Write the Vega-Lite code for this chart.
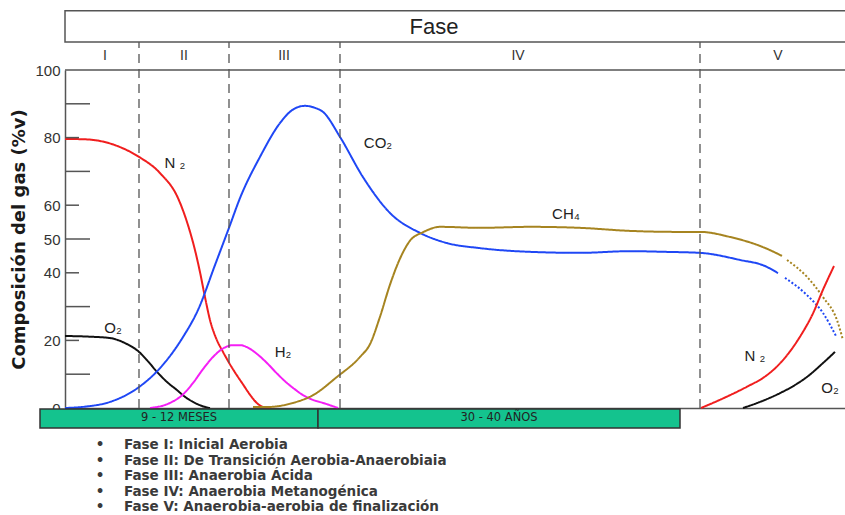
{
  "$schema": "https://vega.github.io/schema/vega-lite/v6.json",
  "width": 780,
  "height": 338,
  "autosize": {"type": "none"},
  "padding": {"left": 65, "top": 70, "right": 0, "bottom": 107},
  "background": "white",
  "config": {"view": {"stroke": null}, "font": "Liberation Sans"},
  "datasets": {
    "curvas": [
      {"seg": "N2a", "gas": "N2", "estilo": "solido", "x": 0, "y": 79.6},
      {"seg": "N2a", "gas": "N2", "estilo": "solido", "x": 20, "y": 79.5},
      {"seg": "N2a", "gas": "N2", "estilo": "solido", "x": 35, "y": 79},
      {"seg": "N2a", "gas": "N2", "estilo": "solido", "x": 55, "y": 77.2},
      {"seg": "N2a", "gas": "N2", "estilo": "solido", "x": 74, "y": 74.3},
      {"seg": "N2a", "gas": "N2", "estilo": "solido", "x": 95, "y": 69.5},
      {"seg": "N2a", "gas": "N2", "estilo": "solido", "x": 113, "y": 62.1},
      {"seg": "N2a", "gas": "N2", "estilo": "solido", "x": 123, "y": 54.1},
      {"seg": "N2a", "gas": "N2", "estilo": "solido", "x": 130, "y": 46.7},
      {"seg": "N2a", "gas": "N2", "estilo": "solido", "x": 135, "y": 40.2},
      {"seg": "N2a", "gas": "N2", "estilo": "solido", "x": 140, "y": 32.8},
      {"seg": "N2a", "gas": "N2", "estilo": "solido", "x": 145, "y": 26},
      {"seg": "N2a", "gas": "N2", "estilo": "solido", "x": 151, "y": 20.7},
      {"seg": "N2a", "gas": "N2", "estilo": "solido", "x": 158, "y": 16.6},
      {"seg": "N2a", "gas": "N2", "estilo": "solido", "x": 175, "y": 8.3},
      {"seg": "N2a", "gas": "N2", "estilo": "solido", "x": 198, "y": 0.3},
      {"seg": "N2a", "gas": "N2", "estilo": "solido", "x": 205, "y": 0},
      {"seg": "O2a", "gas": "O2", "estilo": "solido", "x": 0, "y": 21.3},
      {"seg": "O2a", "gas": "O2", "estilo": "solido", "x": 25, "y": 21.1},
      {"seg": "O2a", "gas": "O2", "estilo": "solido", "x": 45, "y": 20.7},
      {"seg": "O2a", "gas": "O2", "estilo": "solido", "x": 60, "y": 19.2},
      {"seg": "O2a", "gas": "O2", "estilo": "solido", "x": 74, "y": 16.6},
      {"seg": "O2a", "gas": "O2", "estilo": "solido", "x": 83, "y": 13.8},
      {"seg": "O2a", "gas": "O2", "estilo": "solido", "x": 92, "y": 10.7},
      {"seg": "O2a", "gas": "O2", "estilo": "solido", "x": 102, "y": 7.7},
      {"seg": "O2a", "gas": "O2", "estilo": "solido", "x": 112, "y": 5.3},
      {"seg": "O2a", "gas": "O2", "estilo": "solido", "x": 120, "y": 3.3},
      {"seg": "O2a", "gas": "O2", "estilo": "solido", "x": 128, "y": 1.8},
      {"seg": "O2a", "gas": "O2", "estilo": "solido", "x": 137, "y": 0.6},
      {"seg": "O2a", "gas": "O2", "estilo": "solido", "x": 145, "y": 0},
      {"seg": "CO2a", "gas": "CO2", "estilo": "solido", "x": 0, "y": 0},
      {"seg": "CO2a", "gas": "CO2", "estilo": "solido", "x": 20, "y": 0.4},
      {"seg": "CO2a", "gas": "CO2", "estilo": "solido", "x": 45, "y": 1.8},
      {"seg": "CO2a", "gas": "CO2", "estilo": "solido", "x": 74, "y": 6.2},
      {"seg": "CO2a", "gas": "CO2", "estilo": "solido", "x": 95, "y": 11.8},
      {"seg": "CO2a", "gas": "CO2", "estilo": "solido", "x": 118, "y": 21},
      {"seg": "CO2a", "gas": "CO2", "estilo": "solido", "x": 133, "y": 29},
      {"seg": "CO2a", "gas": "CO2", "estilo": "solido", "x": 150, "y": 42.3},
      {"seg": "CO2a", "gas": "CO2", "estilo": "solido", "x": 164, "y": 53.3},
      {"seg": "CO2a", "gas": "CO2", "estilo": "solido", "x": 175, "y": 62.1},
      {"seg": "CO2a", "gas": "CO2", "estilo": "solido", "x": 195, "y": 74.3},
      {"seg": "CO2a", "gas": "CO2", "estilo": "solido", "x": 215, "y": 84.3},
      {"seg": "CO2a", "gas": "CO2", "estilo": "solido", "x": 228, "y": 88.3},
      {"seg": "CO2a", "gas": "CO2", "estilo": "solido", "x": 240, "y": 89.4},
      {"seg": "CO2a", "gas": "CO2", "estilo": "solido", "x": 250, "y": 88.8},
      {"seg": "CO2a", "gas": "CO2", "estilo": "solido", "x": 258, "y": 87.6},
      {"seg": "CO2a", "gas": "CO2", "estilo": "solido", "x": 275, "y": 80.2},
      {"seg": "CO2a", "gas": "CO2", "estilo": "solido", "x": 298, "y": 68.3},
      {"seg": "CO2a", "gas": "CO2", "estilo": "solido", "x": 325, "y": 57.7},
      {"seg": "CO2a", "gas": "CO2", "estilo": "solido", "x": 355, "y": 51.8},
      {"seg": "CO2a", "gas": "CO2", "estilo": "solido", "x": 382, "y": 48.8},
      {"seg": "CO2a", "gas": "CO2", "estilo": "solido", "x": 415, "y": 47.3},
      {"seg": "CO2a", "gas": "CO2", "estilo": "solido", "x": 465, "y": 46.2},
      {"seg": "CO2a", "gas": "CO2", "estilo": "solido", "x": 515, "y": 45.9},
      {"seg": "CO2a", "gas": "CO2", "estilo": "solido", "x": 565, "y": 46.4},
      {"seg": "CO2a", "gas": "CO2", "estilo": "solido", "x": 600, "y": 46.2},
      {"seg": "CO2a", "gas": "CO2", "estilo": "solido", "x": 635, "y": 45.9},
      {"seg": "CO2a", "gas": "CO2", "estilo": "solido", "x": 675, "y": 43.8},
      {"seg": "CO2a", "gas": "CO2", "estilo": "solido", "x": 700, "y": 42},
      {"seg": "CO2a", "gas": "CO2", "estilo": "solido", "x": 713, "y": 39.9},
      {"seg": "CO2b", "gas": "CO2", "estilo": "punteado", "x": 720, "y": 38.5},
      {"seg": "CO2b", "gas": "CO2", "estilo": "punteado", "x": 742, "y": 33.4},
      {"seg": "CO2b", "gas": "CO2", "estilo": "punteado", "x": 758, "y": 28.1},
      {"seg": "CO2b", "gas": "CO2", "estilo": "punteado", "x": 771, "y": 21.3},
      {"seg": "H2a", "gas": "H2", "estilo": "solido", "x": 85, "y": 0},
      {"seg": "H2a", "gas": "H2", "estilo": "solido", "x": 105, "y": 1.5},
      {"seg": "H2a", "gas": "H2", "estilo": "solido", "x": 118, "y": 4},
      {"seg": "H2a", "gas": "H2", "estilo": "solido", "x": 128, "y": 7.4},
      {"seg": "H2a", "gas": "H2", "estilo": "solido", "x": 138, "y": 11.5},
      {"seg": "H2a", "gas": "H2", "estilo": "solido", "x": 148, "y": 15.1},
      {"seg": "H2a", "gas": "H2", "estilo": "solido", "x": 158, "y": 17.6},
      {"seg": "H2a", "gas": "H2", "estilo": "solido", "x": 168, "y": 18.6},
      {"seg": "H2a", "gas": "H2", "estilo": "solido", "x": 175, "y": 18.6},
      {"seg": "H2a", "gas": "H2", "estilo": "solido", "x": 182, "y": 18},
      {"seg": "H2a", "gas": "H2", "estilo": "solido", "x": 192, "y": 16},
      {"seg": "H2a", "gas": "H2", "estilo": "solido", "x": 202, "y": 13.3},
      {"seg": "H2a", "gas": "H2", "estilo": "solido", "x": 212, "y": 10.2},
      {"seg": "H2a", "gas": "H2", "estilo": "solido", "x": 222, "y": 7.4},
      {"seg": "H2a", "gas": "H2", "estilo": "solido", "x": 230, "y": 5.5},
      {"seg": "H2a", "gas": "H2", "estilo": "solido", "x": 238, "y": 3.8},
      {"seg": "H2a", "gas": "H2", "estilo": "solido", "x": 248, "y": 2.4},
      {"seg": "H2a", "gas": "H2", "estilo": "solido", "x": 258, "y": 1.5},
      {"seg": "H2a", "gas": "H2", "estilo": "solido", "x": 273, "y": 0},
      {"seg": "CH4a", "gas": "CH4", "estilo": "solido", "x": 188, "y": 0.3},
      {"seg": "CH4a", "gas": "CH4", "estilo": "solido", "x": 202, "y": 0.3},
      {"seg": "CH4a", "gas": "CH4", "estilo": "solido", "x": 228, "y": 1.5},
      {"seg": "CH4a", "gas": "CH4", "estilo": "solido", "x": 248, "y": 3.8},
      {"seg": "CH4a", "gas": "CH4", "estilo": "solido", "x": 272, "y": 9.2},
      {"seg": "CH4a", "gas": "CH4", "estilo": "solido", "x": 295, "y": 15.1},
      {"seg": "CH4a", "gas": "CH4", "estilo": "solido", "x": 305, "y": 18.9},
      {"seg": "CH4a", "gas": "CH4", "estilo": "solido", "x": 315, "y": 27},
      {"seg": "CH4a", "gas": "CH4", "estilo": "solido", "x": 325, "y": 36.5},
      {"seg": "CH4a", "gas": "CH4", "estilo": "solido", "x": 335, "y": 44.2},
      {"seg": "CH4a", "gas": "CH4", "estilo": "solido", "x": 345, "y": 49.5},
      {"seg": "CH4a", "gas": "CH4", "estilo": "solido", "x": 358, "y": 52},
      {"seg": "CH4a", "gas": "CH4", "estilo": "solido", "x": 375, "y": 53.6},
      {"seg": "CH4a", "gas": "CH4", "estilo": "solido", "x": 415, "y": 53.3},
      {"seg": "CH4a", "gas": "CH4", "estilo": "solido", "x": 465, "y": 53.6},
      {"seg": "CH4a", "gas": "CH4", "estilo": "solido", "x": 515, "y": 53.3},
      {"seg": "CH4a", "gas": "CH4", "estilo": "solido", "x": 565, "y": 52.4},
      {"seg": "CH4a", "gas": "CH4", "estilo": "solido", "x": 615, "y": 52.1},
      {"seg": "CH4a", "gas": "CH4", "estilo": "solido", "x": 635, "y": 52.1},
      {"seg": "CH4a", "gas": "CH4", "estilo": "solido", "x": 665, "y": 50.6},
      {"seg": "CH4a", "gas": "CH4", "estilo": "solido", "x": 698, "y": 47.6},
      {"seg": "CH4a", "gas": "CH4", "estilo": "solido", "x": 717, "y": 45},
      {"seg": "CH4b", "gas": "CH4", "estilo": "punteado", "x": 722, "y": 43.8},
      {"seg": "CH4b", "gas": "CH4", "estilo": "punteado", "x": 742, "y": 38.8},
      {"seg": "CH4b", "gas": "CH4", "estilo": "punteado", "x": 758, "y": 32.8},
      {"seg": "CH4b", "gas": "CH4", "estilo": "punteado", "x": 772, "y": 26},
      {"seg": "CH4b", "gas": "CH4", "estilo": "punteado", "x": 778, "y": 20.1},
      {"seg": "N2b", "gas": "N2", "estilo": "solido", "x": 636, "y": 0},
      {"seg": "N2b", "gas": "N2", "estilo": "solido", "x": 660, "y": 3.1},
      {"seg": "N2b", "gas": "N2", "estilo": "solido", "x": 682, "y": 6.3},
      {"seg": "N2b", "gas": "N2", "estilo": "solido", "x": 700, "y": 9.3},
      {"seg": "N2b", "gas": "N2", "estilo": "solido", "x": 715, "y": 13.2},
      {"seg": "N2b", "gas": "N2", "estilo": "solido", "x": 735, "y": 21.1},
      {"seg": "N2b", "gas": "N2", "estilo": "solido", "x": 748, "y": 28},
      {"seg": "N2b", "gas": "N2", "estilo": "solido", "x": 758, "y": 35},
      {"seg": "N2b", "gas": "N2", "estilo": "solido", "x": 769, "y": 42},
      {"seg": "O2b", "gas": "O2", "estilo": "solido", "x": 678, "y": 0},
      {"seg": "O2b", "gas": "O2", "estilo": "solido", "x": 695, "y": 1.8},
      {"seg": "O2b", "gas": "O2", "estilo": "solido", "x": 715, "y": 4.4},
      {"seg": "O2b", "gas": "O2", "estilo": "solido", "x": 730, "y": 6.8},
      {"seg": "O2b", "gas": "O2", "estilo": "solido", "x": 742, "y": 9.2},
      {"seg": "O2b", "gas": "O2", "estilo": "solido", "x": 758, "y": 13.3},
      {"seg": "O2b", "gas": "O2", "estilo": "solido", "x": 770, "y": 16.6}
    ],
    "etiquetas": [
      {"texto": "N ₂", "x": 110, "y": 72.5},
      {"texto": "O₂", "x": 48, "y": 23.7},
      {"texto": "CO₂", "x": 313, "y": 78.4},
      {"texto": "CH₄", "x": 501, "y": 57.4},
      {"texto": "H₂", "x": 218, "y": 16.6},
      {"texto": "N ₂", "x": 690, "y": 15.4},
      {"texto": "O₂", "x": 765, "y": 5.9}
    ],
    "fases": [
      {"fase": "I", "ini": 0, "fin": 74, "centro": 40},
      {"fase": "II", "ini": 74, "fin": 164, "centro": 119},
      {"fase": "III", "ini": 164, "fin": 275, "centro": 219},
      {"fase": "IV", "ini": 275, "fin": 635, "centro": 453},
      {"fase": "V", "ini": 635, "fin": 790, "centro": 713}
    ],
    "duracion": [
      {"texto": "9 - 12  MESES", "ini": -25, "fin": 253, "centro": 114},
      {"texto": "30 - 40  AÑOS", "ini": 253, "fin": 615, "centro": 434}
    ],
    "marcas": [
      {"valor": 10, "largo": 25},
      {"valor": 20, "largo": 14},
      {"valor": 30, "largo": 25},
      {"valor": 40, "largo": 14},
      {"valor": 50, "largo": 25},
      {"valor": 60, "largo": 14},
      {"valor": 70, "largo": 25},
      {"valor": 80, "largo": 14},
      {"valor": 90, "largo": 25}
    ]
  },
  "layer": [
    {
      "data": {"name": "curvas"},
      "mark": {"type": "line", "interpolate": "monotone", "strokeWidth": 2},
      "encoding": {
        "x": {"field": "x", "type": "quantitative", "scale": {"domain": [0, 780], "nice": false, "zero": false},
              "axis": {"labels": false, "ticks": false, "grid": false, "title": null, "domainColor": "#555555", "domainWidth": 1.5}},
        "y": {"field": "y", "type": "quantitative", "scale": {"domain": [0, 100], "nice": false, "zero": false},
              "axis": {"title": "Composición del gas (%v)", "titleFont": "DejaVu Sans", "titleFontWeight": "bold", "titleFontSize": 18, "titleColor": "#1a1a1a", "titlePadding": 6,
                       "values": [0, 20, 40, 50, 60, 80, 100],
                       "labelOverlap": false,
                       "labelFontSize": 15, "labelColor": "#333333",
                       "ticks": false,
                       "labelPadding": 5,
                       "grid": false, "domainColor": "#555555", "domainWidth": 1.5}},
        "color": {"field": "gas", "type": "nominal", "legend": null,
                  "scale": {"domain": ["N2", "O2", "CO2", "H2", "CH4"], "range": ["#f01e1e", "#111111", "#1f47f5", "#f51ef5", "#a68420"]}},
        "strokeDash": {"field": "estilo", "type": "nominal", "legend": null,
                       "scale": {"domain": ["solido", "punteado"], "range": [[1, 0], [2, 2]]}},
        "detail": {"field": "seg"}
      }
    },
    {
      "data": {"name": "marcas"},
      "mark": {"type": "rule", "color": "#555555", "strokeWidth": 1.5},
      "encoding": {
        "x": {"field": "largo", "type": "quantitative", "scale": {"domain": [0, 780], "nice": false, "zero": false}},
        "x2": {"datum": 0},
        "y": {"field": "valor", "type": "quantitative", "scale": {"domain": [0, 100], "nice": false, "zero": false}}
      }
    },
    {
      "data": {"values": [{"titulo": "Fase"}]},
      "mark": {"type": "rect", "fill": null, "stroke": "#555555", "strokeWidth": 1.5},
      "encoding": {
        "x": {"datum": 0, "type": "quantitative", "scale": {"domain": [0, 780], "nice": false, "zero": false}},
        "x2": {"datum": 800},
        "y": {"datum": 108.3, "type": "quantitative", "scale": {"domain": [0, 100], "nice": false, "zero": false}},
        "y2": {"datum": 117.5}
      }
    },
    {
      "data": {"values": [{"titulo": "Fase"}]},
      "mark": {"type": "text", "fontSize": 22, "color": "#222222", "baseline": "middle"},
      "encoding": {
        "text": {"field": "titulo"},
        "x": {"datum": 369, "type": "quantitative", "scale": {"domain": [0, 780], "nice": false, "zero": false}},
        "y": {"datum": 112.6, "type": "quantitative", "scale": {"domain": [0, 100], "nice": false, "zero": false}}
      }
    },
    {
      "data": {"values": [{"linea": "superior"}]},
      "mark": {"type": "rule", "color": "#555555", "strokeWidth": 1.5},
      "encoding": {
        "y": {"datum": 100, "type": "quantitative", "scale": {"domain": [0, 100], "nice": false, "zero": false}}
      }
    },
    {
      "data": {"name": "fases"},
      "transform": [{"filter": "datum.fase != 'V'"}],
      "mark": {"type": "rule", "color": "#555555", "strokeWidth": 1.3, "strokeDash": [9, 6]},
      "encoding": {
        "x": {"field": "fin", "type": "quantitative", "scale": {"domain": [0, 780], "nice": false, "zero": false}},
        "y": {"datum": 0, "type": "quantitative", "scale": {"domain": [0, 100], "nice": false, "zero": false}},
        "y2": {"datum": 108.3}
      }
    },
    {
      "data": {"name": "fases"},
      "mark": {"type": "text", "fontSize": 14, "color": "#333333", "baseline": "middle"},
      "encoding": {
        "text": {"field": "fase"},
        "x": {"field": "centro", "type": "quantitative", "scale": {"domain": [0, 780], "nice": false, "zero": false}},
        "y": {"datum": 104.1, "type": "quantitative", "scale": {"domain": [0, 100], "nice": false, "zero": false}}
      }
    },
    {
      "data": {"name": "etiquetas"},
      "mark": {"type": "text", "fontSize": 15, "color": "#222222", "baseline": "middle"},
      "encoding": {
        "text": {"field": "texto"},
        "x": {"field": "x", "type": "quantitative", "scale": {"domain": [0, 780], "nice": false, "zero": false}},
        "y": {"field": "y", "type": "quantitative", "scale": {"domain": [0, 100], "nice": false, "zero": false}}
      }
    },
    {
      "data": {"name": "duracion"},
      "mark": {"type": "rect", "fill": "#14c38e", "stroke": "#333333", "strokeWidth": 1.5},
      "encoding": {
        "x": {"field": "ini", "type": "quantitative", "scale": {"domain": [0, 780], "nice": false, "zero": false}},
        "x2": {"field": "fin"},
        "y": {"datum": -0.3, "type": "quantitative", "scale": {"domain": [0, 100], "nice": false, "zero": false}},
        "y2": {"datum": -5.9}
      }
    },
    {
      "data": {"name": "duracion"},
      "mark": {"type": "text", "fontSize": 11.5, "font": "DejaVu Sans", "color": "#222222", "baseline": "middle"},
      "encoding": {
        "text": {"field": "texto"},
        "x": {"field": "centro", "type": "quantitative", "scale": {"domain": [0, 780], "nice": false, "zero": false}},
        "y": {"datum": -3.1, "type": "quantitative", "scale": {"domain": [0, 100], "nice": false, "zero": false}}
      }
    },
    {
      "data": {"values": [{"lista": "fases"}]},
      "mark": {"type": "text", "fontSize": 13.5, "font": "DejaVu Sans", "fontWeight": "bold", "color": "#3a3a3a", "align": "left", "baseline": "alphabetic", "lineHeight": 15.5,
               "text": ["Fase I: Inicial Aerobia", "Fase II: De Transición Aerobia-Anaerobiaia", "Fase III: Anaerobia Ácida", "Fase IV:  Anaerobia Metanogénica", "Fase V: Anaerobia-aerobia de finalización"]},
      "encoding": {
        "x": {"datum": 59, "type": "quantitative", "scale": {"domain": [0, 780], "nice": false, "zero": false}},
        "y": {"datum": -12.2, "type": "quantitative", "scale": {"domain": [0, 100], "nice": false, "zero": false}}
      }
    },
    {
      "data": {"values": [{"lista": "fases"}]},
      "mark": {"type": "text", "fontSize": 13.5, "font": "DejaVu Sans", "fontWeight": "bold", "color": "#3a3a3a", "align": "center", "baseline": "alphabetic", "lineHeight": 15.5,
               "text": ["•", "•", "•", "•", "•"]},
      "encoding": {
        "x": {"datum": 35, "type": "quantitative", "scale": {"domain": [0, 780], "nice": false, "zero": false}},
        "y": {"datum": -12.2, "type": "quantitative", "scale": {"domain": [0, 100], "nice": false, "zero": false}}
      }
    }
  ]
}
